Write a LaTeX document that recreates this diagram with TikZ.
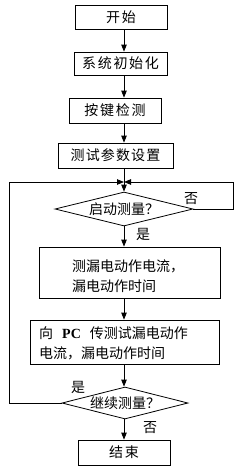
\documentclass[tikz,border=0pt]{standalone}
\usepackage{fontspec}
\setmainfont{Noto Sans CJK SC}
\newfontfamily\latf{Liberation Serif}
\usetikzlibrary{shapes.geometric,arrows.meta}
\tikzset{
  boxnode/.style={draw=black, line width=0.8pt, inner sep=0pt, font=\fontsize{14pt}{20pt}\selectfont},
  dia/.style={draw=black, line width=0.8pt, shape=diamond, inner sep=0pt, aspect=4},
  txt/.style={font=\fontsize{14pt}{20pt}\selectfont, inner sep=0pt},
  arr/.style={line width=0.8pt, -{Triangle[length=7pt,width=5.5pt]}},
  ln/.style={line width=0.8pt}
}
\begin{document}
\begin{tikzpicture}[x=1pt,y=-1pt]
\useasboundingbox (0,0) rectangle (239,471);
% boxes
\node[boxnode, minimum width=92pt, minimum height=24pt] (b1) at (121,17) {\addfontfeature{LetterSpace=12}开始};
\node[boxnode, minimum width=93pt, minimum height=23pt] (b2) at (120.5,63.5) {\addfontfeature{LetterSpace=12}系统初始化};
\node[boxnode, minimum width=92pt, minimum height=25pt] (b3) at (115,110.5) {\addfontfeature{LetterSpace=12}按键检测};
\node[boxnode, minimum width=115pt, minimum height=25pt] (b4) at (115.5,155.5) {\addfontfeature{LetterSpace=8}测试参数设置};
\node[dia, minimum width=138pt, minimum height=34pt] (d1) at (124,209) {};
\node[txt] (t1) at (124,209) {启动测量？};
\node[boxnode, minimum width=181pt, minimum height=51pt] (b5) at (129.5,272.5) {};
\node[txt, anchor=west, align=left] (t5) at (72,276) {测漏电动作电流，\\漏电动作时间};
\node[boxnode, minimum width=189pt, minimum height=44pt] (b6) at (124.5,342) {};
\node[txt, anchor=west, align=left] (t6) at (39,343) {向\hspace{9pt}{\latf\bfseries PC}\hspace{9pt}传测试漏电动作\\电流，漏电动作时间};
\node[dia, minimum width=126pt, minimum height=32pt] (d2) at (125,403) {};
\node[txt] (t2) at (125,403) {继续测量？};
\node[boxnode, minimum width=92pt, minimum height=25pt] (b7) at (124,452.5) {\addfontfeature{LetterSpace=12}结束};
% junction and loop corners
\coordinate (J) at (124,182);
\coordinate (R) at (233,182);
\coordinate (L) at (9,182);
% arrows
\draw[arr] (b1.south -| d1) -- (b2.north -| d1);
\draw[arr] (b2.south -| d1) -- (b3.north -| d1);
\draw[arr] (b3.south -| d1) -- (b4.north -| d1);
\draw[arr] (b4.south -| d1) -- (d1.north);
\draw[arr] (d1.south) -- (b5.north -| d1);
\draw[arr] (b5.south -| d1) -- (b6.north -| d1);
\draw[arr] (b6.south -| d1) -- (d2.north -| d1);
\draw[arr] (d2.south -| d1) -- (b7.north -| d1);
\draw[arr] (d1.east) -- (d1.east -| R) -- (R) -- (J);
\draw[arr] (d2.west) -- (d2.west -| L) -- (L) -- (J);
% labels
\node[txt] (n1) at (191,199) {否};
\node[txt] (y1) at (143,234) {是};
\node[txt] (y2) at (78,387) {是};
\node[txt] (n2) at (150,428) {否};
\end{tikzpicture}
\end{document}
